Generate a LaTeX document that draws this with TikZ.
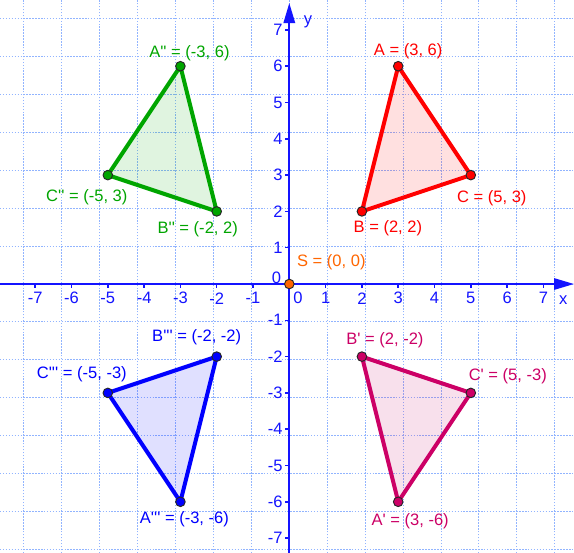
\documentclass[tikz,border=0pt]{standalone}
\usepackage{fontspec}
\newfontfamily\gfont{Liberation Sans}
\usetikzlibrary{arrows.meta}
\definecolor{gridc}{RGB}{145,180,255}
\definecolor{axisc}{RGB}{20,20,255}
\definecolor{redc}{RGB}{255,0,0}
\definecolor{greenc}{RGB}{0,165,0}
\definecolor{bluec}{RGB}{0,0,255}
\definecolor{magc}{RGB}{204,0,102}
\definecolor{orangec}{RGB}{255,102,0}
\begin{document}
\begin{tikzpicture}[x=27.225pt,y=27.225pt,
  font={\gfont\fontsize{12.4pt}{14pt}\selectfont},
  gridline/.style={gridc, line width=0.75pt, dash pattern=on 1.1pt off 1.1pt},
  axisline/.style={axisc, line width=1.5pt},
  tickline/.style={axisc, line width=1.1pt},
  tri/.style={line width=3pt, line join=round},
  trifill/.style={fill opacity=0.12},
  ptmark/.style={circle, inner sep=0pt, minimum size=7.2pt, draw=black!85, line width=0.7pt},
  lab/.style={inner sep=0pt, anchor=center},
  ticklab/.style={text=axisc, inner sep=0pt}
]
\useasboundingbox (-7.970,-7.410) rectangle (7.843,7.824);
\fill[white] (-7.970,-7.410) rectangle (7.843,7.824);
% grid
\draw[gridline] (-7.970,-7.410) grid (7.843,7.824);

% points
\coordinate (A) at (3,6);
\coordinate (B) at (2,2);
\coordinate (C) at (5,3);
\coordinate (A1) at (3,-6);
\coordinate (B1) at (2,-2);
\coordinate (C1) at (5,-3);
\coordinate (A2) at (-3,6);
\coordinate (B2) at (-2,2);
\coordinate (C2) at (-5,3);
\coordinate (A3) at (-3,-6);
\coordinate (B3) at (-2,-2);
\coordinate (C3) at (-5,-3);
\coordinate (S) at (0,0);

% axes
\draw[axisline, -{Triangle[length=15pt,width=8.5pt]}] (-7.970,0) -- (7.843,0);
\draw[axisline, -{Triangle[length=15pt,width=8.5pt]}] (0,-7.410) -- (0,7.741);
\foreach \i in {-7,...,-1,1,2,...,7}{
  \draw[tickline] (\i,0) -- ++(0,-3.2pt);
  \draw[tickline] (0,\i) -- ++(-3.2pt,0);
  \node[ticklab, yshift=-10.7pt] (xl\i) at (\i,0) {\i};
  \node[ticklab, anchor=east, xshift=-4.8pt] (yl\i) at (0,\i) {\i};
}
\node[ticklab, xshift=6.5pt, yshift=-10.7pt] (xl0) at (0,0) {0};
\node[ticklab, anchor=east, xshift=-5.9pt, yshift=4.9pt] (yl0) at (0,0) {0};
\node[ticklab] (xlab) at (7.548,-0.441) {x};
\node[ticklab] (ylab) at (0.515,7.226) {y};

% triangles
\fill[redc, trifill] (A) -- (B) -- (C) -- cycle;
\draw[tri, redc] (A) -- (B) -- (C) -- cycle;
\fill[magc, trifill] (A1) -- (B1) -- (C1) -- cycle;
\draw[tri, magc] (A1) -- (B1) -- (C1) -- cycle;
\fill[greenc, trifill] (A2) -- (B2) -- (C2) -- cycle;
\draw[tri, greenc] (A2) -- (B2) -- (C2) -- cycle;
\fill[bluec, trifill] (A3) -- (B3) -- (C3) -- cycle;
\draw[tri, bluec] (A3) -- (B3) -- (C3) -- cycle;

% point marks
\foreach \p in {A,B,C}{\node[ptmark, fill=redc] (p\p) at (\p) {};}
\foreach \p in {A1,B1,C1}{\node[ptmark, fill=magc] (p\p) at (\p) {};}
\foreach \p in {A2,B2,C2}{\node[ptmark, fill=greenc] (p\p) at (\p) {};}
\foreach \p in {A3,B3,C3}{\node[ptmark, fill=bluec] (p\p) at (\p) {};}
\node[ptmark, fill=orangec] (pS) at (S) {};

% labels
\node[lab, text=redc, xshift=7.5pt, yshift=11.25pt] (lA) at (A) {A = (3, 6)};
\node[lab, text=redc, xshift=19.5pt, yshift=-12.75pt] (lB) at (B) {B = (2, 2)};
\node[lab, text=redc, xshift=15.75pt, yshift=-17.25pt] (lC) at (C) {C = (5, 3)};

\node[lab, text=greenc, xshift=6.75pt, yshift=9.75pt] (lA2) at (A2) {A'' = (-3, 6)};
\node[lab, text=greenc, xshift=-15.75pt, yshift=-16.5pt] (lC2) at (C2) {C'' = (-5, 3)};
\node[lab, text=greenc, xshift=-14.25pt, yshift=-13.5pt] (lB2) at (B2) {B'' = (-2, 2)};

\node[lab, text=bluec, xshift=-15pt, yshift=14.25pt] (lB3) at (B3) {B''' = (-2, -2)};
\node[lab, text=bluec, xshift=-19.5pt, yshift=14.25pt] (lC3) at (C3) {C''' = (-5, -3)};
\node[lab, text=bluec, xshift=3pt, yshift=-12.75pt] (lA3) at (A3) {A''' = (-3, -6)};

\node[lab, text=magc, xshift=17.25pt, yshift=12pt] (lB1) at (B1) {B' = (2, -2)};
\node[lab, text=magc, xshift=27.75pt, yshift=12.75pt] (lC1) at (C1) {C' = (5, -3)};
\node[lab, text=magc, xshift=9pt, yshift=-14.25pt] (lA1) at (A1) {A' = (3, -6)};

\node[lab, text=orangec, xshift=31.5pt, yshift=16.5pt] (lS) at (S) {S = (0, 0)};
\end{tikzpicture}
\end{document}
